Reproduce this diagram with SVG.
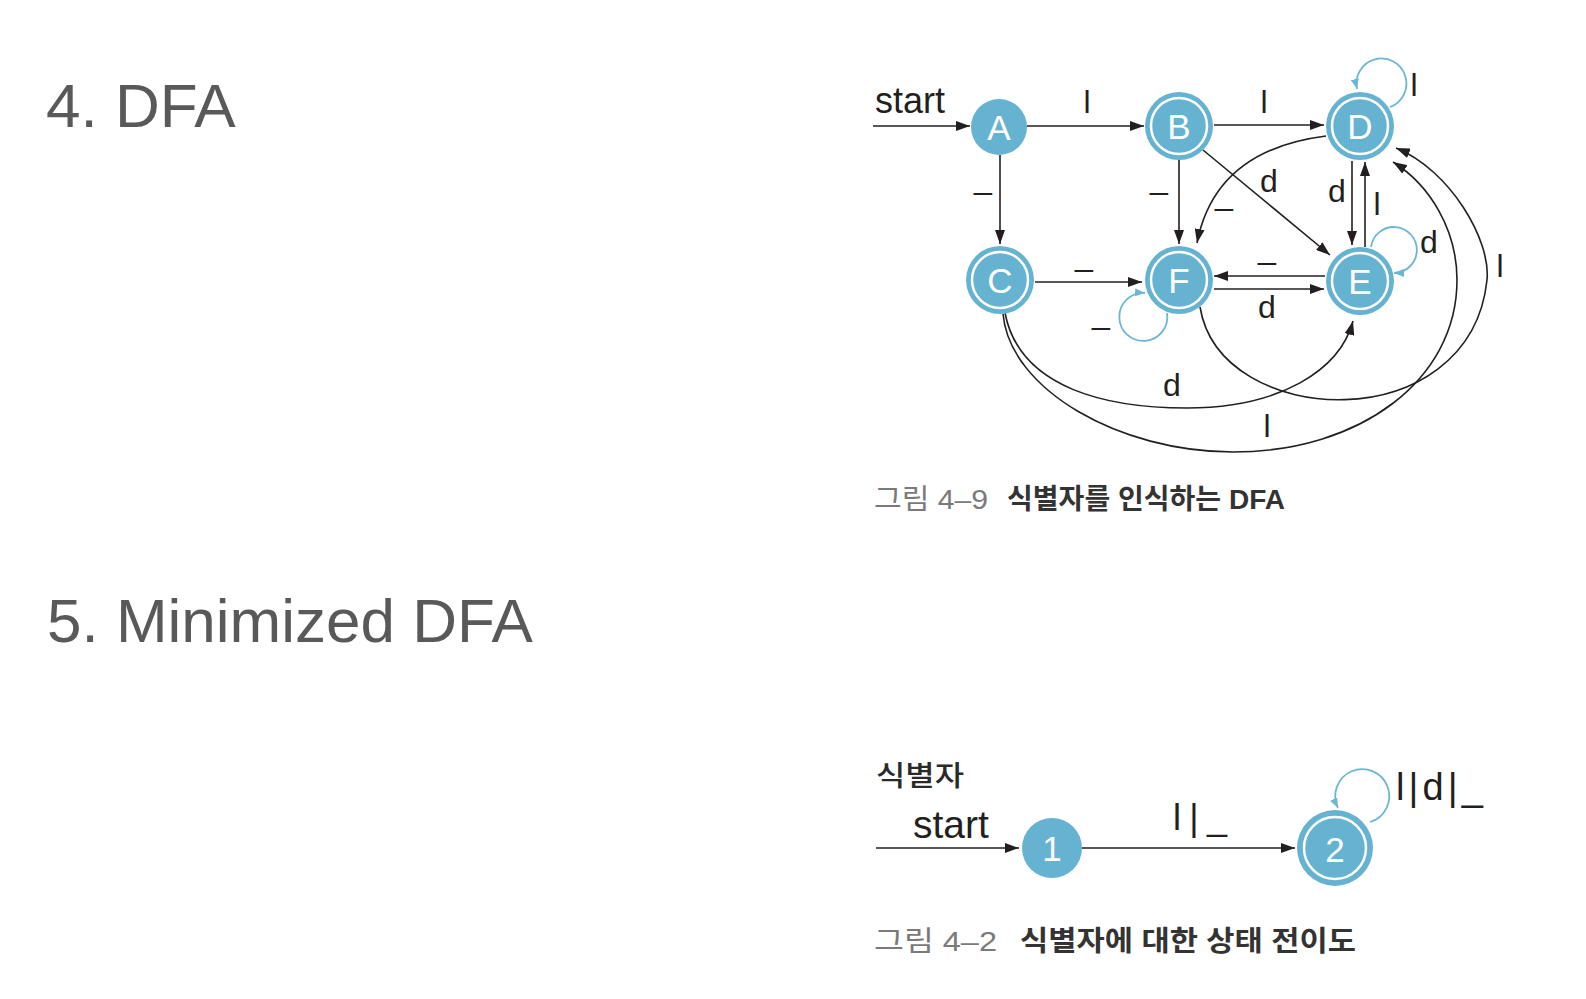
<svg xmlns="http://www.w3.org/2000/svg" width="1586" height="999" viewBox="0 0 1586 999">
<defs>
<style>
.title{font-family:"Liberation Sans",Arial,sans-serif;font-size:62px;fill:#595959}
.lbl{font-family:"Liberation Sans",Arial,sans-serif;font-size:32px;fill:#231f20}
.st{font-family:"Liberation Sans",Arial,sans-serif;fill:#231f20}
.nl{font-family:"Liberation Sans",Arial,sans-serif;font-size:35px;fill:#ffffff;text-anchor:middle}
.cap{font-family:"Liberation Sans","Noto Sans CJK KR",sans-serif;font-size:28px}
.capg{fill:#7a7a7a}
.capb{fill:#333333;font-weight:bold}
.node{fill:#66b2d1}
.ring{fill:none;stroke:#ffffff;stroke-width:2.5}
.e{fill:none;stroke:#231f20;stroke-width:1.6}
.loop{fill:none;stroke:#6ab6d5;stroke-width:1.8}
</style>
<marker id="ah" markerUnits="userSpaceOnUse" markerWidth="14" markerHeight="10" refX="14" refY="5" orient="auto">
<path d="M0,0 L14,5 L0,10 z" fill="#231f20"/>
</marker>
<marker id="bh" markerUnits="userSpaceOnUse" markerWidth="10" markerHeight="8" refX="10" refY="4" orient="auto">
<path d="M0,0 L10,4 L0,8 z" fill="#6ab6d5"/>
</marker>
</defs>
<rect width="1586" height="999" fill="#ffffff"/>
<text class="title" x="46" y="127">4. DFA</text>
<text class="title" x="47" y="642">5. Minimized DFA</text>

<g id="connectors">
<path class="e" d="M873,126 L970,126" marker-end="url(#ah)"/>
<path class="e" d="M1027,126 L1144,126" marker-end="url(#ah)"/>
<path class="e" d="M1000,155 L1000,244" marker-end="url(#ah)"/>
<path class="e" d="M1179,160 L1179,244" marker-end="url(#ah)"/>
<path class="e" d="M1214,125 L1324,125" marker-end="url(#ah)"/>
<path class="loop" d="M1390,107 A25,25 0 1 0 1357,89" marker-end="url(#bh)"/>
<path class="e" d="M1326,136 Q1215,150 1197,243" marker-end="url(#ah)"/>
<path class="e" d="M1203,150 L1330,255" marker-end="url(#ah)"/>
<path class="e" d="M1352,161 L1352,245" marker-end="url(#ah)"/>
<path class="e" d="M1365,247 L1365,162" marker-end="url(#ah)"/>
<path class="loop" d="M1371,247 A23,23 0 1 1 1394,273" marker-end="url(#bh)"/>
<path class="e" d="M1035,282 L1142,282" marker-end="url(#ah)"/>
<path class="loop" d="M1167,313 A24,24 0 1 1 1145,293" marker-end="url(#bh)"/>
<path class="e" d="M1325,276 L1214,276" marker-end="url(#ah)"/>
<path class="e" d="M1214,289 L1324,289" marker-end="url(#ah)"/>
<path class="e" d="M1005,313 C1020,390 1110,408 1187,408 C1280,408 1340,370 1353,321" marker-end="url(#ah)"/>
<path class="e" d="M1003,314 C1010,390 1120,452 1233,452 C1360,452 1457,380 1457,280 C1457,230 1430,185 1393,162" marker-end="url(#ah)"/>
<path class="e" d="M1200,307 C1220,430 1470,440 1487,280 C1491,240 1450,170 1396,148" marker-end="url(#ah)"/>

<path class="e" d="M876,848 L1019,848" marker-end="url(#ah)"/>
<path class="e" d="M1082,848 L1295,848" marker-end="url(#ah)"/>
<path class="loop" d="M1370,822 A27,27 0 1 0 1338,808" marker-end="url(#bh)"/>
</g>

<g id="edge-labels">
<text class="st" x="875" y="113" font-size="36">start</text>
<text class="lbl" x="1087" y="113" text-anchor="middle">l</text>
<text class="lbl" x="983" y="189" text-anchor="middle">_</text>
<text class="lbl" x="1159" y="189" text-anchor="middle">_</text>
<text class="lbl" x="1264" y="113" text-anchor="middle">l</text>
<text class="lbl" x="1414" y="96" text-anchor="middle">l</text>
<text class="lbl" x="1224" y="205" text-anchor="middle">_</text>
<text class="lbl" x="1269" y="192" text-anchor="middle">d</text>
<text class="lbl" x="1337" y="202" text-anchor="middle">d</text>
<text class="lbl" x="1377" y="215" text-anchor="middle">l</text>
<text class="lbl" x="1429" y="253" text-anchor="middle">d</text>
<text class="lbl" x="1084" y="266" text-anchor="middle">_</text>
<text class="lbl" x="1101" y="324" text-anchor="middle">_</text>
<text class="lbl" x="1267" y="259" text-anchor="middle">_</text>
<text class="lbl" x="1267" y="318" text-anchor="middle">d</text>
<text class="lbl" x="1172" y="396" text-anchor="middle">d</text>
<text class="lbl" x="1267" y="437" text-anchor="middle">l</text>
<text class="lbl" x="1500" y="277" text-anchor="middle">l</text>

<text class="cap" x="876" y="786" font-size="30" fill="#2a2a2a" font-weight="500" textLength="88" lengthAdjust="spacingAndGlyphs">식별자</text>
<text class="st" x="913" y="838" font-size="39">start</text>
<text class="st" x="1173" y="830" font-size="36" textLength="54" lengthAdjust="spacing">l|_</text>
<text class="st" x="1396" y="800" font-size="38" textLength="87" lengthAdjust="spacing">l|d|_</text>
</g>

<g id="node-A"><circle class="node" cx="999" cy="127" r="28"/><text class="nl" x="999" y="140">A</text></g>
<g id="node-B"><circle class="node" cx="1179" cy="126" r="34"/><circle class="ring" cx="1179" cy="126" r="28"/><text class="nl" x="1179" y="139">B</text></g>
<g id="node-C"><circle class="node" cx="1000" cy="280" r="34"/><circle class="ring" cx="1000" cy="280" r="28"/><text class="nl" x="1000" y="293">C</text></g>
<g id="node-D"><circle class="node" cx="1360" cy="126" r="34"/><circle class="ring" cx="1360" cy="126" r="28"/><text class="nl" x="1360" y="139">D</text></g>
<g id="node-E"><circle class="node" cx="1360" cy="281" r="34"/><circle class="ring" cx="1360" cy="281" r="28"/><text class="nl" x="1360" y="294">E</text></g>
<g id="node-F"><circle class="node" cx="1179" cy="280" r="34"/><circle class="ring" cx="1179" cy="280" r="28"/><text class="nl" x="1179" y="293">F</text></g>

<g id="node-1"><circle class="node" cx="1052" cy="848" r="30"/><text class="nl" x="1052" y="861" font-size="36">1</text></g>
<g id="node-2"><circle class="node" cx="1335" cy="848" r="38"/><circle class="ring" cx="1335" cy="848" r="31"/><text class="nl" x="1335" y="862" font-size="38">2</text></g>

<g id="caption-1">
<text class="cap capg" x="874" y="509" textLength="114" lengthAdjust="spacingAndGlyphs">그림 4–9</text>
<text class="cap capb" x="1007" y="509" textLength="278" lengthAdjust="spacingAndGlyphs">식별자를 인식하는 DFA</text>
</g>
<g id="caption-2">
<text class="cap capg" x="874" y="951" font-size="30" textLength="123" lengthAdjust="spacingAndGlyphs">그림 4–2</text>
<text class="cap capb" x="1020" y="951" font-size="30" textLength="336" lengthAdjust="spacingAndGlyphs">식별자에 대한 상태 전이도</text>
</g>
</svg>
